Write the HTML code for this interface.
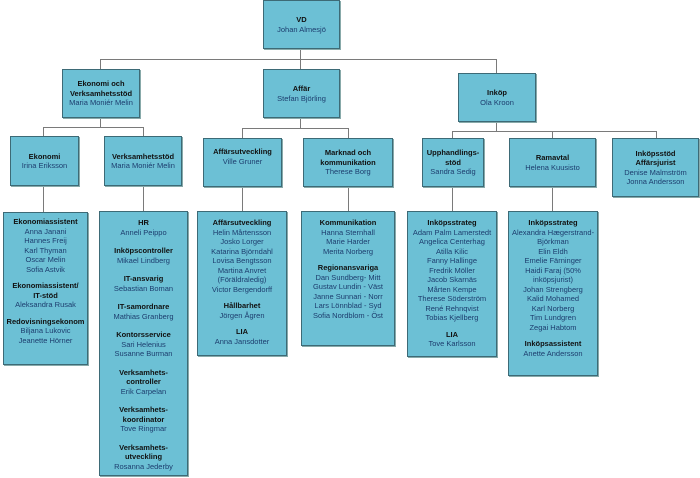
<!DOCTYPE html>
<html><head><meta charset="utf-8"><style>
body{margin:0;width:700px;height:478px;background:#fff;position:relative;overflow:hidden;font-family:"Liberation Sans",sans-serif;}
.b{position:absolute;box-sizing:border-box;background:#6cc0d5;border:1px solid #3d6a76;box-shadow:1px 1px 0 #8aa;text-align:center;font-size:7.5px;line-height:9.5px;color:#1d3d6e;}
.c{display:flex;flex-direction:column;justify-content:center;}
.b b{color:#111;display:block;}
.t{padding-top:4px;}
.g{margin-bottom:7px;}
.v .g{margin-bottom:9px;}
.l{position:absolute;background:#7a7a7a;}
</style></head><body>
<div class="l" style="left:300px;top:49px;width:1px;height:10px"></div>
<div class="l" style="left:100px;top:59px;width:397px;height:1px"></div>
<div class="l" style="left:100px;top:59px;width:1px;height:10px"></div>
<div class="l" style="left:300px;top:59px;width:1px;height:10px"></div>
<div class="l" style="left:496px;top:59px;width:1px;height:14px"></div>

<div class="l" style="left:100px;top:118px;width:1px;height:9px"></div>
<div class="l" style="left:43px;top:127px;width:101px;height:1px"></div>
<div class="l" style="left:43px;top:127px;width:1px;height:9px"></div>
<div class="l" style="left:143px;top:127px;width:1px;height:9px"></div>

<div class="l" style="left:300px;top:118px;width:1px;height:10px"></div>
<div class="l" style="left:242px;top:128px;width:107px;height:1px"></div>
<div class="l" style="left:242px;top:128px;width:1px;height:10px"></div>
<div class="l" style="left:348px;top:128px;width:1px;height:10px"></div>

<div class="l" style="left:496px;top:122px;width:1px;height:9px"></div>
<div class="l" style="left:452px;top:131px;width:205px;height:1px"></div>
<div class="l" style="left:452px;top:131px;width:1px;height:7px"></div>
<div class="l" style="left:552px;top:131px;width:1px;height:7px"></div>
<div class="l" style="left:656px;top:131px;width:1px;height:7px"></div>

<div class="l" style="left:43px;top:186px;width:1px;height:26px"></div>
<div class="l" style="left:143px;top:186px;width:1px;height:25px"></div>
<div class="l" style="left:242px;top:187px;width:1px;height:24px"></div>
<div class="l" style="left:348px;top:187px;width:1px;height:24px"></div>
<div class="l" style="left:452px;top:187px;width:1px;height:24px"></div>
<div class="l" style="left:552px;top:187px;width:1px;height:24px"></div>

<div class="b c" style="left:263px;top:0;width:77px;height:49px"><b>VD</b>Johan Almesjö</div>
<div class="b c" style="left:62px;top:69px;width:78px;height:49px"><b>Ekonomi och Verksamhetsstöd</b>Maria Moniér Melin</div>
<div class="b c" style="left:263px;top:69px;width:77px;height:49px"><b>Affär</b>Stefan Björling</div>
<div class="b c" style="left:458px;top:73px;width:78px;height:49px"><b>Inköp</b>Ola Kroon</div>

<div class="b c" style="left:10px;top:136px;width:69px;height:50px"><b>Ekonomi</b>Irina Eriksson</div>
<div class="b c" style="left:104px;top:136px;width:78px;height:50px"><b>Verksamhetsstöd</b>Maria Moniér Melin</div>
<div class="b c" style="left:203px;top:138px;width:79px;height:49px;justify-content:flex-start;padding-top:8px"><b>Affärsutveckling</b>Ville Gruner</div>
<div class="b c" style="left:303px;top:138px;width:90px;height:49px"><b>Marknad och<br>kommunikation</b>Therese Borg</div>
<div class="b c" style="left:422px;top:138px;width:62px;height:49px"><b>Upphandlings-<br>stöd</b>Sandra Sedig</div>
<div class="b c" style="left:509px;top:138px;width:87px;height:49px"><b>Ramavtal</b>Helena Kuusisto</div>
<div class="b c" style="left:612px;top:138px;width:87px;height:59px"><b>Inköpsstöd<br>Affärsjurist</b>Denise Malmström<br>Jonna Andersson</div>

<div class="b t" style="left:3px;top:212px;width:85px;height:153px">
<div class="g"><b>Ekonomiassistent</b>Anna Janani<br>Hannes Freij<br>Karl Thyman<br>Oscar Melin<br>Sofia Astvik</div>
<div class="g"><b>Ekonomiassistent/<br>IT-stöd</b>Aleksandra Rusak</div>
<div><b>Redovisningsekonom</b>Biljana Lukovic<br>Jeanette Hörner</div></div>

<div class="b t v" style="left:99px;top:211px;width:89px;height:265px;padding-top:6px">
<div class="g"><b>HR</b>Anneli Peippo</div>
<div class="g"><b>Inköpscontroller</b>Mikael Lindberg</div>
<div class="g"><b>IT-ansvarig</b>Sebastian Boman</div>
<div class="g"><b>IT-samordnare</b>Mathias Granberg</div>
<div class="g"><b>Kontorsservice</b>Sari Helenius<br>Susanne Burman</div>
<div class="g"><b>Verksamhets-<br>controller</b>Erik Carpelan</div>
<div class="g"><b>Verksamhets-<br>koordinator</b>Tove Ringmar</div>
<div><b>Verksamhets-<br>utveckling</b>Rosanna Jederby</div></div>

<div class="b t" style="left:197px;top:211px;width:90px;height:145px;padding-top:6px">
<div class="g"><b>Affärsutveckling</b>Helin Mårtensson<br>Josko Lorger<br>Katarina Björndahl<br>Lovisa Bengtsson<br>Martina Anvret<br>(Föräldraledig)<br>Victor Bergendorff</div>
<div class="g"><b>Hållbarhet</b>Jörgen Ågren</div>
<div><b>LIA</b>Anna Jansdotter</div></div>

<div class="b t" style="left:301px;top:211px;width:94px;height:135px;padding-top:6px">
<div class="g"><b>Kommunikation</b>Hanna Sternhall<br>Marie Harder<br>Merita Norberg</div>
<div><b>Regionansvariga</b>Dan Sundberg- Mitt<br>Gustav Lundin - Väst<br>Janne Sunnari - Norr<br>Lars Lönnblad - Syd<br>Sofia Nordblom - Öst</div></div>

<div class="b t" style="left:407px;top:211px;width:90px;height:146px;padding-top:6px">
<div class="g"><b>Inköpsstrateg</b>Adam Palm Lamerstedt<br>Angelica Centerhag<br>Atilla Kilic<br>Fanny Hallinge<br>Fredrik Möller<br>Jacob Skarnäs<br>Mårten Kempe<br>Therese Söderström<br>René Rehnqvist<br>Tobias Kjellberg</div>
<div><b>LIA</b>Tove Karlsson</div></div>

<div class="b t" style="left:508px;top:211px;width:90px;height:165px;padding-top:6px">
<div class="g"><b>Inköpsstrateg</b>Alexandra Hægerstrand-<br>Björkman<br>Elin Eldh<br>Emelie Färninger<br>Haidi Faraj (50%<br>inköpsjurist)<br>Johan Strengberg<br>Kalid Mohamed<br>Karl Norberg<br>Tim Lundgren<br>Zegai Habtom</div>
<div><b>Inköpsassistent</b>Anette Andersson</div></div>
</body></html>
